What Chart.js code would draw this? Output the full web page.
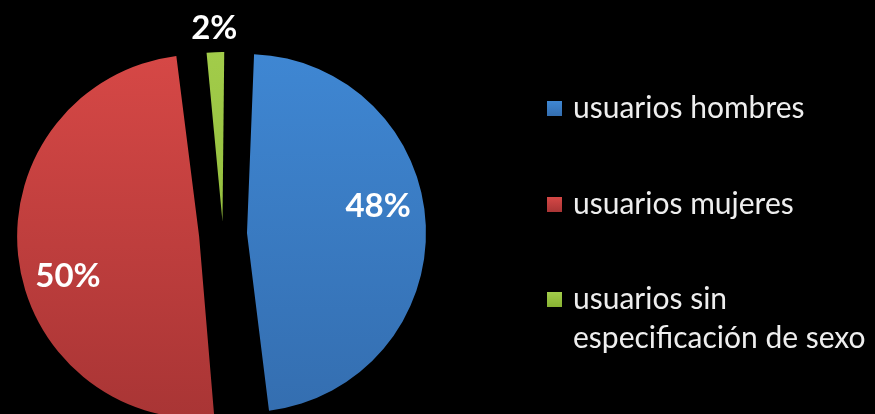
<!DOCTYPE html>
<html><head><meta charset="utf-8">
<script src="https://cdn.jsdelivr.net/npm/chart.js@4.4.1/dist/chart.umd.min.js"></script>
<style>
html,body{margin:0;padding:0;background:#000;}
#wrap{position:relative;width:875px;height:414px;overflow:hidden;background:#000;}
canvas{position:absolute;left:0;top:0;}
.pct{position:absolute;color:#fff;font-family:Lato, "Open Sans", sans-serif;font-weight:700;font-size:33px;transform:translate(-50%,-50%);white-space:nowrap;line-height:1;}
.leg{position:absolute;left:547px;font-family:Lato, "Open Sans", sans-serif;font-size:30px;color:#eeeeee;line-height:39px;}
.leg .sw{position:absolute;left:0;top:14px;width:15px;height:15px;}
.leg .tx{position:absolute;left:26px;top:0;white-space:nowrap;}
</style></head>
<body><div id="wrap"><canvas id="c" width="875" height="414"></canvas></div>
<script>
const categories = ['usuarios hombres', 'usuarios mujeres', ['usuarios sin', 'especificación de sexo']];
const values = [48, 50, 2];
const percentLabels = ['48%', '50%', '2%'];
const sliceTop = ['#3f87d3', '#d64846', '#a3cd4b'];
const sliceBottom = ['#346eb0', '#a93535', '#88b232'];
const explode = [96, 96, 51];

const wrap = document.getElementById('wrap');
const ctx = document.getElementById('c').getContext('2d');

function grad(context) {
  const i = context.dataIndex;
  const c = context.chart.ctx;
  const g = c.createLinearGradient(0, 50, 0, 414);
  g.addColorStop(0, sliceTop[i]);
  g.addColorStop(1, sliceBottom[i]);
  return g;
}

const chart = new Chart(ctx, {
  type: 'pie',
  data: {
    labels: categories,
    datasets: [{
      data: values,
      backgroundColor: grad,
      borderWidth: 0,
      offset: explode,
      clip: false
    }]
  },
  options: {
    responsive: false,
    animation: false,
    events: [],
    rotation: 1.2,
    radius: 158,
    layout: { padding: { left: 0, right: 429, top: 54, bottom: 0 } },
    plugins: { legend: { display: false }, tooltip: { enabled: false } }
  }
});

// percentage labels placed from the arc geometry
const total = values.reduce((a, b) => a + b, 0);
const meta = chart.getDatasetMeta(0);
meta.data.forEach((arc, i) => {
  const p = arc.getProps(['x', 'y', 'startAngle', 'endAngle', 'outerRadius', 'circumference']);
  const mid = (p.startAngle + p.endAngle) / 2;
  const shift = explode[i] / 4;
  const fix = 1 - Math.sin(Math.min(Math.PI, p.circumference));
  const R = p.outerRadius + shift * fix;
  const cx = p.x + Math.cos(mid) * shift;
  const cy = p.y + Math.sin(mid) * shift;
  let ang, d;
  if (values[i] / total < 0.05) { ang = mid; d = R + 26; }
  else { ang = mid - 10 * Math.PI / 180; d = 0.75 * R; }
  const el = document.createElement('div');
  el.className = 'pct';
  el.textContent = percentLabels[i];
  el.style.left = (cx + Math.cos(ang) * d) + 'px';
  el.style.top = (cy + Math.sin(ang) * d) + 'px';
  wrap.appendChild(el);
});

// legend
categories.forEach((lab, i) => {
  const row = document.createElement('div');
  row.className = 'leg';
  row.style.top = (87 + i * 95.5) + 'px';
  const sw = document.createElement('div');
  sw.className = 'sw';
  sw.style.background = 'linear-gradient(' + sliceTop[i] + ',' + sliceBottom[i] + ')';
  const tx = document.createElement('div');
  tx.className = 'tx';
  const lines = Array.isArray(lab) ? lab : [lab];
  lines.forEach((ln, k) => {
    if (k) tx.appendChild(document.createElement('br'));
    tx.appendChild(document.createTextNode(ln));
  });
  row.appendChild(sw);
  row.appendChild(tx);
  wrap.appendChild(row);
});
</script>
</body></html>
